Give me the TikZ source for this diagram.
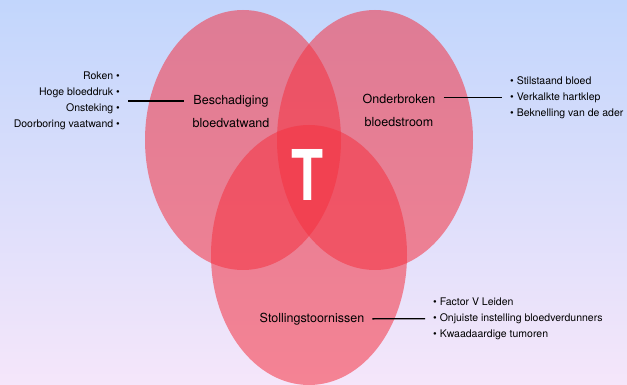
\documentclass[tikz,border=0pt]{standalone}
\usepackage{fontspec}
\setmainfont{TeX Gyre Heros}
\usetikzlibrary{shapes.geometric, positioning}

\definecolor{bgtop}{RGB}{194,214,252}
\definecolor{bgbottom}{RGB}{245,230,250}
\definecolor{vennred}{RGB}{245,50,65}

\begin{document}
\begin{tikzpicture}[x=1pt,y=-1pt,
	circ/.style={ellipse, fill=vennred, fill opacity=0.55, minimum width=196pt, minimum height=260pt, inner sep=0pt},
	factor/.style={font=\fontsize{12.5}{23}\selectfont, align=center, inner sep=0pt},
	causes/.style={font=\fontsize{10.5}{16}\selectfont, inner sep=0pt},
	link/.style={line width=1.3pt, shorten <=8pt, shorten >=8pt}]
	\useasboundingbox (0,0) rectangle (627,385);
	\shade[top color=bgtop, bottom color=bgbottom] (0,0) rectangle (627,385);

	% the three circles
	\node[circ] (vaatwand) at (243,140) {};
	\node[circ] (stroom) at (375,140) {};
	\node[circ] (stolling) at (309,255) {};
	\node[font=\fontsize{70}{70}\selectfont\bfseries, text=white, inner sep=0pt] (T) at (308,175) {\scalebox{0.75}[1]{T}};

	% labels
	\node[factor] (lblA) at (231,112) {Beschadiging\\bloedvatwand};
	\node[factor] (lblB) at (399,110) {Onderbroken\\bloedstroom};
	\node[factor] (lblC) at (312,319) {Stollingstoornissen};

	% causes
	\node[causes, align=right, anchor=east] (listA) at (120,101) {Roken \textbullet\\Hoge bloeddruk \textbullet\\Onsteking \textbullet\\Doorboring vaatwand \textbullet};
	\node[causes, align=left, anchor=west] (listB) at (510,97.5) {\textbullet{} Stilstaand bloed\\\textbullet{} Verkalkte hartklep\\\textbullet{} Beknelling van de ader};
	\node[causes, align=left, anchor=west] (listC) at (433,318.5) {\textbullet{} Factor V Leiden\\\textbullet{} Onjuiste instelling bloedverdunners\\\textbullet{} Kwaadaardige tumoren};

	\draw[link] (listA) -- (listA -| lblA.west);
	\draw[link] (lblB.east |- listB) -- (listB);
	\draw[link] (lblC) -- (listC);
\end{tikzpicture}
\end{document}
